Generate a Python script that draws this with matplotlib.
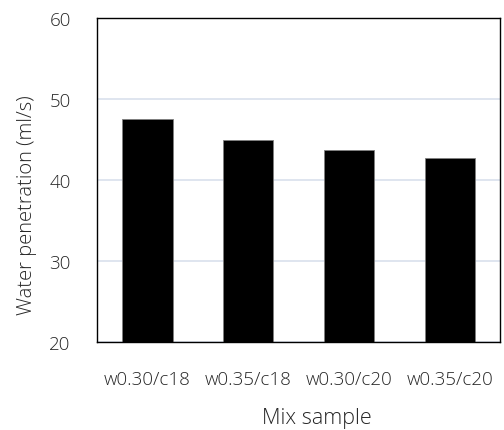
import matplotlib
matplotlib.use("Agg")
import matplotlib.pyplot as plt

plt.rcParams['font.family'] = ['Open Sans', 'DejaVu Sans']

# data
samples = ['w0.30/c18', 'w0.35/c18', 'w0.30/c20', 'w0.35/c20']
penetration = [47.5, 45.0, 43.7, 42.7]
y_ticks = [20, 30, 40, 50, 60]

fig = plt.figure(figsize=(5.04, 4.31), dpi=100)
ax = fig.add_axes([0.1925, 0.204, 0.80, 0.752])

x = range(len(samples))
ax.bar(x, penetration, width=0.5, color='black', edgecolor='#7f7f7f',
       linewidth=0.6, zorder=3)

ax.set_xlim(-0.5, len(samples) - 0.5)
ax.set_ylim(20, 60)
ax.set_yticks(y_ticks)
ax.set_xticks(list(x))
ax.set_xticklabels(samples)

ax.grid(axis='y', color='#d9e0ec', linewidth=1.2, zorder=0)
for s in ax.spines.values():
    s.set_color('black')
    s.set_linewidth(1.0)
    s.set_zorder(4)

txt = '#262626'
ax.tick_params(axis='both', length=0, labelsize=13.5, labelcolor=txt)
for lab in ax.get_xticklabels() + ax.get_yticklabels():
    lab.set_fontweight('light')
ax.tick_params(axis='y', pad=19)
ax.tick_params(axis='x', pad=20)
ax.set_ylabel('Water penetration (ml/s)', fontsize=14.5, color=txt,
             fontweight='light')
ax.yaxis.set_label_coords(-0.15, 0.426)
ax.set_xlabel('Mix sample', fontsize=15.5, color=txt, fontweight='light')
ax.xaxis.set_label_coords(0.546, -0.2)

fig.savefig('out.png', dpi=100)
